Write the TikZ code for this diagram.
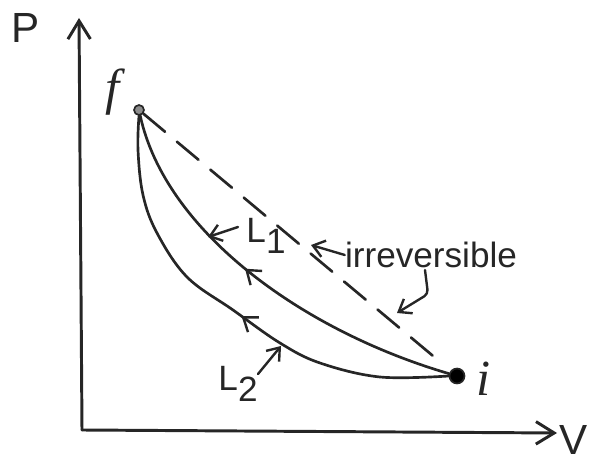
\documentclass[tikz,border=0pt]{standalone}
\usepackage{fontspec}
\setmainfont{Liberation Sans}
\newfontfamily\scriptletter{Liberation Serif}
\usetikzlibrary{arrows.meta, decorations.markings}

\begin{document}
\begin{tikzpicture}[x=0.025cm, y=-0.025cm,
        pencil/.style={line width=1.9pt, draw=black!85, line cap=round},
        axis/.style={pencil, line width=2.1pt,
            -{Straight Barb[length=13pt, width=16pt, line width=2.1pt]}},
        state/.style={circle, draw=black!85, line width=1.2pt, inner sep=0pt},
        dashes/.style={pencil, dash pattern=on 20pt off 11pt},
        pointer/.style={pencil, line width=1.7pt,
            -{Straight Barb[length=8pt, width=12pt, line width=1.7pt]}},
        flowmark/.style={postaction={decorate, decoration={markings,
            mark=at position #1 with {\arrowreversed[black!85]{Straight Barb[length=9pt, width=13pt, line width=1.7pt]}}}}},
        label text/.style={inner sep=0pt, text=black!85},
        big/.style={label text, font=\fontsize{30}{30}\selectfont},
        small/.style={label text, font=\fontsize{25}{25}\selectfont},
        endlabel/.style={label text, font=\fontsize{36}{36}\selectfont\scriptletter\itshape},
    ]
        \useasboundingbox (0,0) rectangle (593,464);

        % Axes
        \coordinate (origin) at (82,430);
        \coordinate (ptop) at (79,18);
        \coordinate (vend) at (557,433);
        \draw[axis] (origin) -- (ptop);
        \draw[axis] (origin) -- (vend);
        \node[big] (plabel) at (26,28) {P};
        \node[big] (vlabel) at (574,440) {V};

        % End states
        \node[state, minimum size=10pt*0.71, fill=black!45] (pf) at (139,110) {};
        \node[state, minimum size=15pt*0.71, fill=black] (pi) at (457,376) {};
        \node[endlabel] (flabel) at (113,92) {f};
        \node[endlabel] (ilabel) at (484,379) {i};

        % Paths
        \draw[pencil, flowmark=0.45] (pf) .. controls (165,230) and (300,330) .. (pi);
        \draw[pencil, flowmark=0.52] plot[smooth, tension=0.6] coordinates
            {(pf.south) (138,150) (143,195) (157,233) (187,277) (233,310)
             (280,343) (320,363) (380,377) (pi.west)};
        \draw[dashes, shorten >=9pt] (pf) -- (pi);

        % Labels
        \node[small] (lone) at (266,236) {L\raisebox{-8pt}{1}};
        \node[small] (ltwo) at (238,384) {L\raisebox{-8pt}{2}};
        \node[small] (irr) at (431,255) {irreversible};

        % Pointers
        \coordinate (lonetail) at (238,227);
        \coordinate (lonetip) at (208,237);
        \coordinate (ltwotail) at (258,374);
        \coordinate (ltwotip) at (281,346);
        \coordinate (irrtip) at (311,245);
        \coordinate (irrtail) at (425,270);
        \coordinate (irrbend) at (428,294);
        \coordinate (dashtip) at (397,313);
        \draw[pointer] (lonetail) -- (lonetip);
        \draw[pointer] (ltwotail) -- (ltwotip);
        \draw[pointer] (irr.west) -- (irrtip);
        \draw[pointer, rounded corners=3pt] (irrtail) -- (irrbend) -- (dashtip);
\end{tikzpicture}
\end{document}
